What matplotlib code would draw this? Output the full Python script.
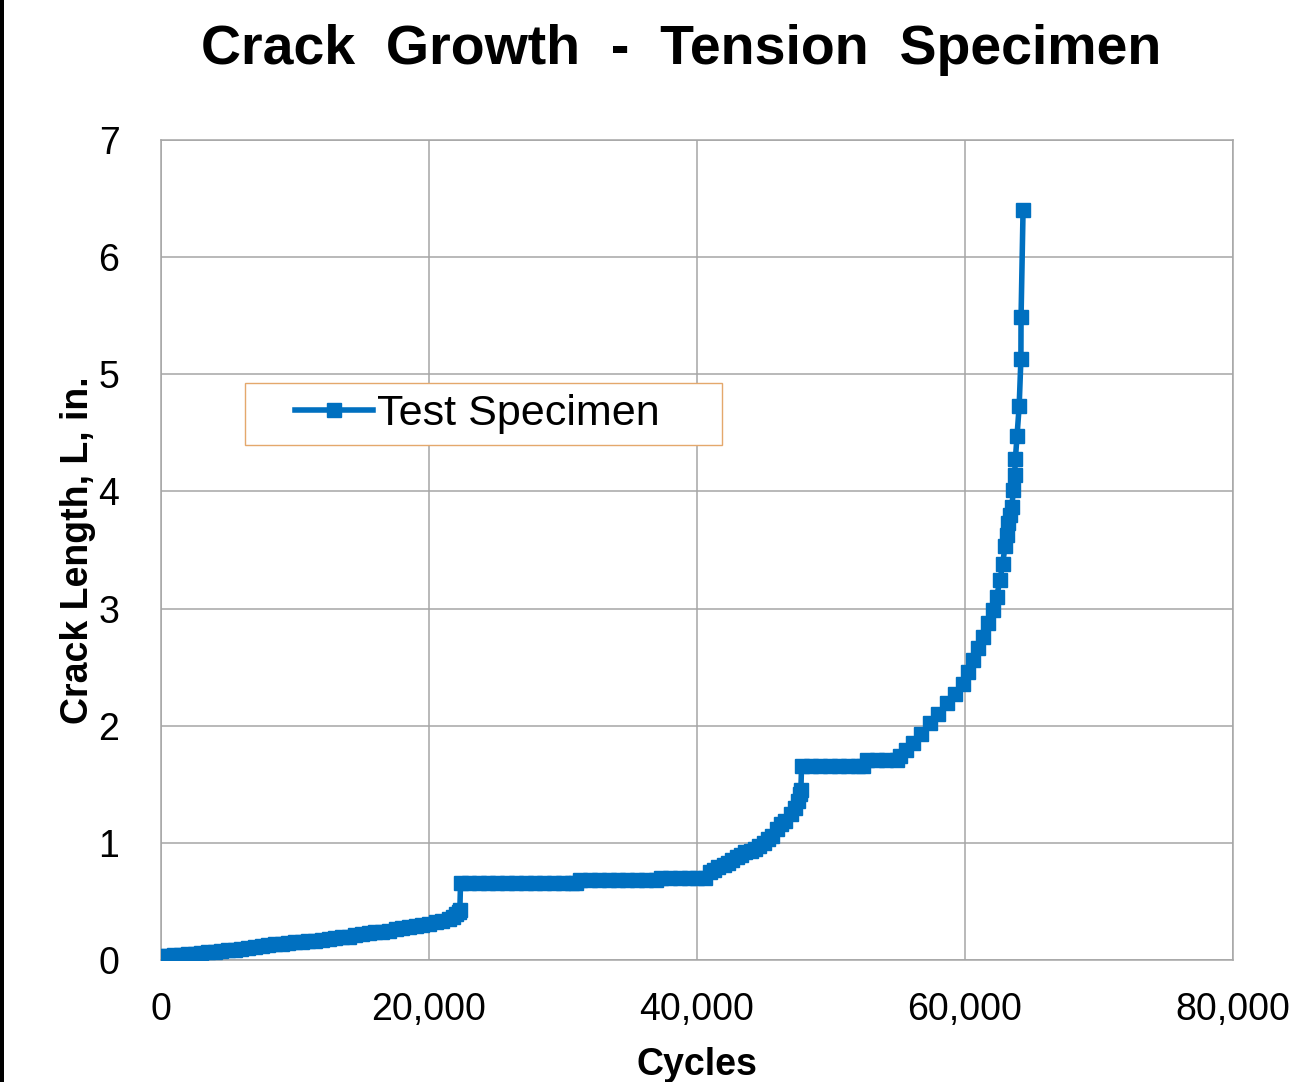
import matplotlib as mpl

mpl.use("Agg")

import matplotlib.pyplot as plt
from matplotlib.patches import Rectangle
from matplotlib.ticker import FuncFormatter

plt.rcParams.update({"font.family": "Liberation Sans"})

# readings taken off the curve: cycles and crack length (in.)
cycles = [
    0, 500, 1000, 1500, 2000, 2500, 3000, 3500, 4000, 4500, 5000, 5500,
    6000, 6500, 7000, 7500, 8000, 8500, 9000, 9500, 10000, 10500, 11000,
    11500, 12000, 12500, 13000, 13500, 14000, 14500, 15000, 15500, 16000,
    16500, 17000, 17500, 18000, 18500, 19000, 19500, 20000, 20500, 21000,
    21500, 21800, 22000, 22200, 22300,
    22350, 23000, 23700, 24400, 25100, 25800, 26500, 27200, 27900, 28600,
    29300, 30000, 30700, 31000, 31300, 32000, 32700, 33400, 34100, 34800,
    35500, 36200, 36900, 37300, 38000, 38700, 39400, 40000, 40600,
    41000, 41300, 41600, 42000, 42300, 42600, 43000, 43300, 43600, 44000,
    44300, 44600, 45000, 45300, 45600, 46000, 46300, 46600, 47000, 47300,
    47500, 47650, 47750,
    47800, 48500, 49200, 49900, 50600, 51300, 52000, 52400, 52700, 53400,
    54100, 54900, 55150, 55600, 56130, 56700, 57390, 58000, 58630, 59250,
    59870, 60250, 60620, 61000, 61370, 61750, 62120, 62350, 62610, 62800,
    62990, 63120, 63240, 63370, 63490, 63610, 63700, 63760, 63880, 64040,
    64170, 64180, 64330,
]
crack_len = [
    0.03, 0.035, 0.04, 0.045, 0.05, 0.055, 0.06, 0.065, 0.07, 0.076, 0.082,
    0.088, 0.094, 0.10, 0.112, 0.12, 0.13, 0.135, 0.14, 0.145, 0.15, 0.155,
    0.16, 0.166, 0.172, 0.178, 0.185, 0.192, 0.20, 0.21, 0.22, 0.23, 0.235,
    0.24, 0.25, 0.26, 0.27, 0.28, 0.29, 0.30, 0.31, 0.32, 0.33, 0.35, 0.37,
    0.39, 0.41, 0.43,
    0.66, 0.66, 0.66, 0.66, 0.66, 0.66, 0.66, 0.66, 0.66, 0.66, 0.66, 0.66,
    0.66, 0.66, 0.685, 0.685, 0.685, 0.685, 0.685, 0.685, 0.685, 0.685,
    0.685, 0.70, 0.70, 0.70, 0.70, 0.70, 0.70,
    0.75, 0.77, 0.79, 0.81, 0.83, 0.85, 0.88, 0.90, 0.92, 0.93, 0.95, 0.97,
    1.00, 1.03, 1.06, 1.12, 1.16, 1.19, 1.25, 1.30,
    1.36, 1.42, 1.45,
    1.66, 1.66, 1.66, 1.66, 1.66, 1.66, 1.66, 1.66, 1.71, 1.71, 1.71, 1.71,
    1.74, 1.79, 1.85, 1.93, 2.02, 2.10, 2.19, 2.27, 2.36, 2.46, 2.56, 2.66,
    2.76, 2.88, 2.99, 3.10, 3.24, 3.38, 3.53, 3.63, 3.73, 3.80, 3.87, 4.01,
    4.14, 4.28, 4.47, 4.73, 5.13, 5.485, 6.40,
]

x_ticks = [0, 20000, 40000, 60000, 80000]
y_ticks = [0, 1, 2, 3, 4, 5, 6, 7]

blue = "#0070C0"
grid_gray = "#A6A6A6"

fig = plt.figure(figsize=(13.03, 10.82), dpi=100)
ax = fig.add_axes([0.1236, 0.1128, 0.8227, 0.7578])

ax.plot(cycles, crack_len, color=blue, lw=4, marker="s", ms=9.5,
        mec=blue, mfc=blue, label="Test Specimen", zorder=3)

ax.set_xlim(0, 80000)
ax.set_ylim(0, 7)
ax.set_xticks(x_ticks)
ax.set_yticks(y_ticks)
ax.xaxis.set_major_formatter(FuncFormatter(lambda v, p: f"{int(v):,}"))
ax.grid(True, color=grid_gray, lw=1.1)
ax.set_axisbelow(True)
for s in ax.spines.values():
    s.set_color(grid_gray)
    s.set_linewidth(1.1)
ax.tick_params(length=0, labelsize=27, pad=0)
ax.tick_params(axis="x", pad=23)
ax.tick_params(axis="y", pad=30)

ax.set_xlabel("Cycles", fontsize=27, fontweight="bold", labelpad=14)
ax.set_ylabel("Crack Length, L, in.", fontsize=27, fontweight="bold", labelpad=2)

fig.text(0.523, 0.954, "Crack  Growth  -  Tension  Specimen", fontsize=40,
         fontweight="bold", ha="center", va="center")

# legend with its frame drawn separately
leg = ax.legend(loc="center left", bbox_to_anchor=(0.125, 0.666), frameon=False,
                fontsize=31, handlelength=1.8, handletextpad=0.1, borderpad=0,
                borderaxespad=0, numpoints=1)
ax.add_patch(Rectangle((0.078, 0.628), 0.445, 0.076, transform=ax.transAxes,
                       fill=True, fc="white", ec="#E4A86C", lw=1, zorder=2))

# black strip at the left edge of the screenshot
fig.patches.append(Rectangle((0, 0), 4 / 1303, 1, transform=fig.transFigure,
                             fc="black", ec="none"))

plt.savefig("out.png", dpi=100)
plt.close()
